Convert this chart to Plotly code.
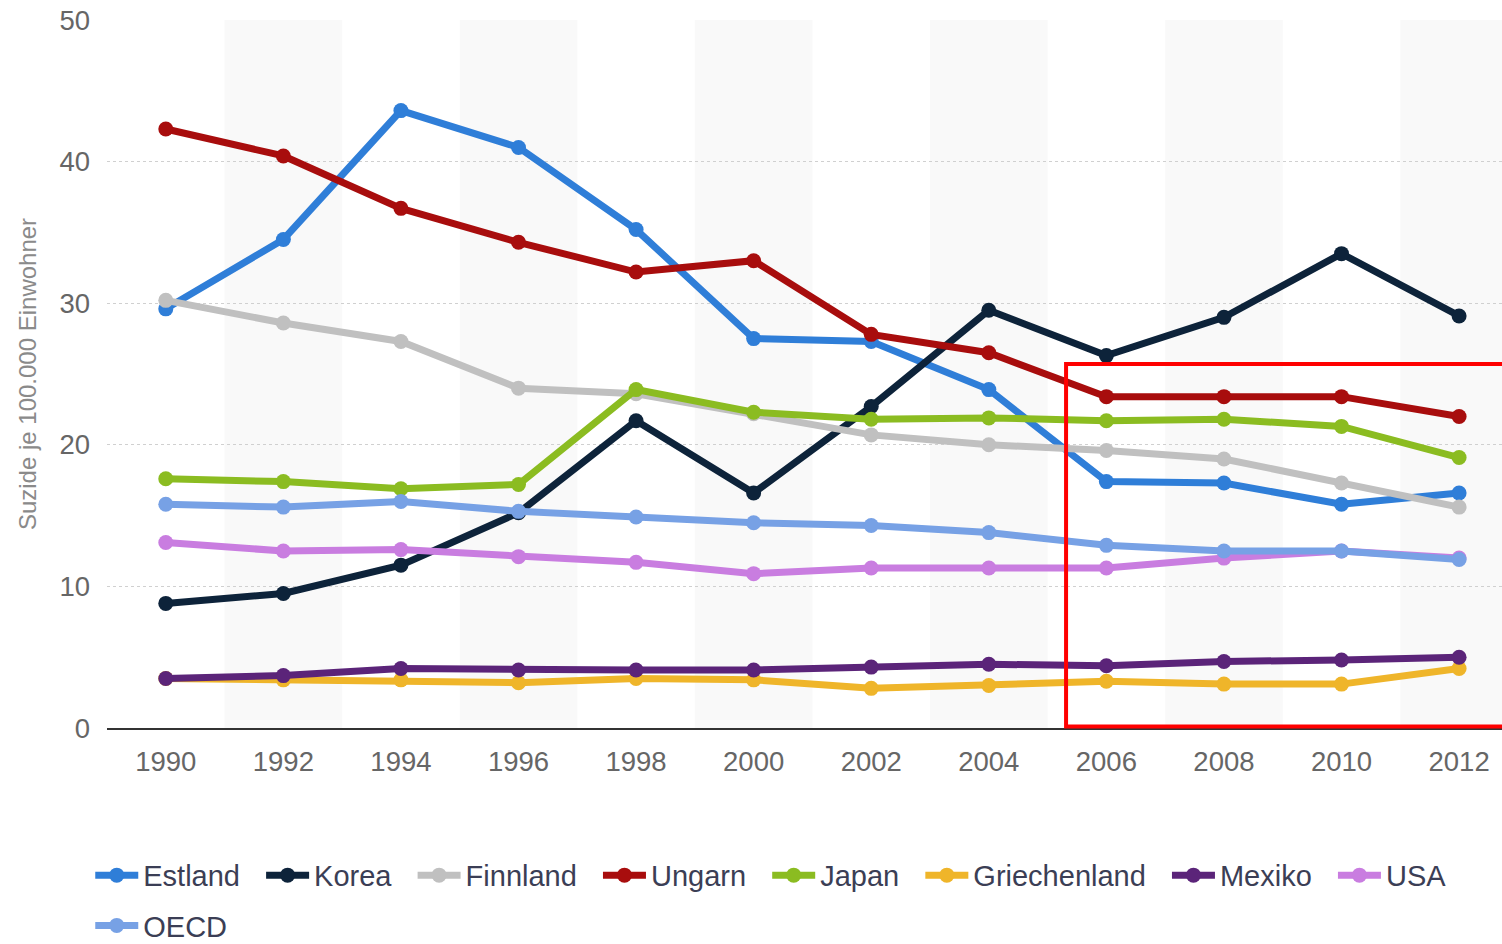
import plotly.graph_objects as go

years = [1990, 1992, 1994, 1996, 1998, 2000, 2002, 2004, 2006, 2008, 2010, 2012]

estland = [29.6, 34.5, 43.6, 41.0, 35.2, 27.5, 27.3, 23.9, 17.4, 17.3, 15.8, 16.6]
korea = [8.8, 9.5, 11.5, 15.2, 21.7, 16.6, 22.7, 29.5, 26.3, 29.0, 33.5, 29.1]
finnland = [30.2, 28.6, 27.3, 24.0, 23.6, 22.2, 20.7, 20.0, 19.6, 19.0, 17.3, 15.6]
ungarn = [42.3, 40.4, 36.7, 34.3, 32.2, 33.0, 27.8, 26.5, 23.4, 23.4, 23.4, 22.0]
japan = [17.6, 17.4, 16.9, 17.2, 23.9, 22.3, 21.8, 21.9, 21.7, 21.8, 21.3, 19.1]
griechenland = [3.5, 3.4, 3.4, 3.2, 3.5, 3.4, 2.8, 3.0, 3.3, 3.1, 3.1, 4.2]
mexiko = [3.5, 3.7, 4.2, 4.1, 4.1, 4.1, 4.3, 4.5, 4.4, 4.7, 4.8, 5.0]
usa = [13.1, 12.5, 12.6, 12.1, 11.7, 10.9, 11.3, 11.3, 11.3, 12.0, 12.5, 12.0]
oecd = [15.8, 15.6, 16.0, 15.3, 14.9, 14.5, 14.3, 13.8, 12.9, 12.5, 12.5, 11.9]

series_names = ["Estland", "Korea", "Finnland", "Ungarn", "Japan",
                "Griechenland", "Mexiko", "USA", "OECD"]
series_values = [estland, korea, finnland, ungarn, japan,
                 griechenland, mexiko, usa, oecd]
series_colors = ["#2f7ed8", "#0d233a", "#c0c0c0", "#a80d0d", "#8bbc21",
                 "#efb52a", "#5b2479", "#c97de0", "#77a1e5"]

y_title = "Suzide je 100.000 Einwohner"

NBSP = "\u00a0"
fig = go.Figure()
for i, (name, vals, col) in enumerate(zip(series_names, series_values, series_colors)):
    in_row2 = name == "OECD"
    last_in_row = name in ("USA", "OECD")
    label = name if last_in_row else name + NBSP * 2
    fig.add_trace(go.Scatter(
        x=years, y=vals, name=label, mode="lines+markers",
        line=dict(color=col, width=7),
        marker=dict(color=col, size=15),
        legend="legend2" if in_row2 else "legend",
    ))

shapes = []
# alternating category bands
for i, yr in enumerate(years):
    if i % 2 == 1:
        shapes.append(dict(type="rect", xref="x", yref="paper",
                           x0=yr - 1, x1=yr + 1, y0=0, y1=1,
                           fillcolor="#f9f9f9", line=dict(width=0),
                           layer="below"))
# red highlight rectangle
shapes.append(dict(type="rect", xref="paper", yref="paper",
                   x0=0.6875, x1=1.02, y0=0.002, y1=0.514,
                   line=dict(color="#ff0000", width=4),
                   fillcolor="rgba(0,0,0,0)", layer="above"))

legend_font = dict(size=29, color="#3b3e55")
fig.update_layout(
    width=1502, height=944,
    margin=dict(l=107, r=0, t=20, b=216, autoexpand=False),
    paper_bgcolor="white", plot_bgcolor="white",
    font=dict(family="Liberation Sans, Arial, sans-serif"),
    shapes=shapes,
    showlegend=True,
    legend=dict(orientation="h", x=-0.012, xanchor="left", y=-0.172, yanchor="top",
                font=legend_font, itemwidth=43,
                bgcolor="rgba(0,0,0,0)"),
    legend2=dict(orientation="h", x=-0.012, xanchor="left", y=-0.243, yanchor="top",
                 font=legend_font, itemwidth=43,
                 bgcolor="rgba(0,0,0,0)"),
    xaxis=dict(range=[1989, 2012.73], tickvals=years, ticktext=[str(y) for y in years],
               showgrid=False, zeroline=False, showline=True,
               linecolor="#333333", linewidth=2, ticks="",
               tickfont=dict(size=27.5, color="#666666"), ticklabelstandoff=8),
    yaxis=dict(range=[0, 50], dtick=10, showgrid=True, gridcolor="#d0d0d0",
               griddash="dot", gridwidth=1, zeroline=False, showline=False,
               tickfont=dict(size=27.5, color="#666666"), ticklabelstandoff=16,
               title=dict(text=y_title, font=dict(size=24, color="#8a8a8a"),
                          standoff=16)),
)

fig.write_html("out.html")
